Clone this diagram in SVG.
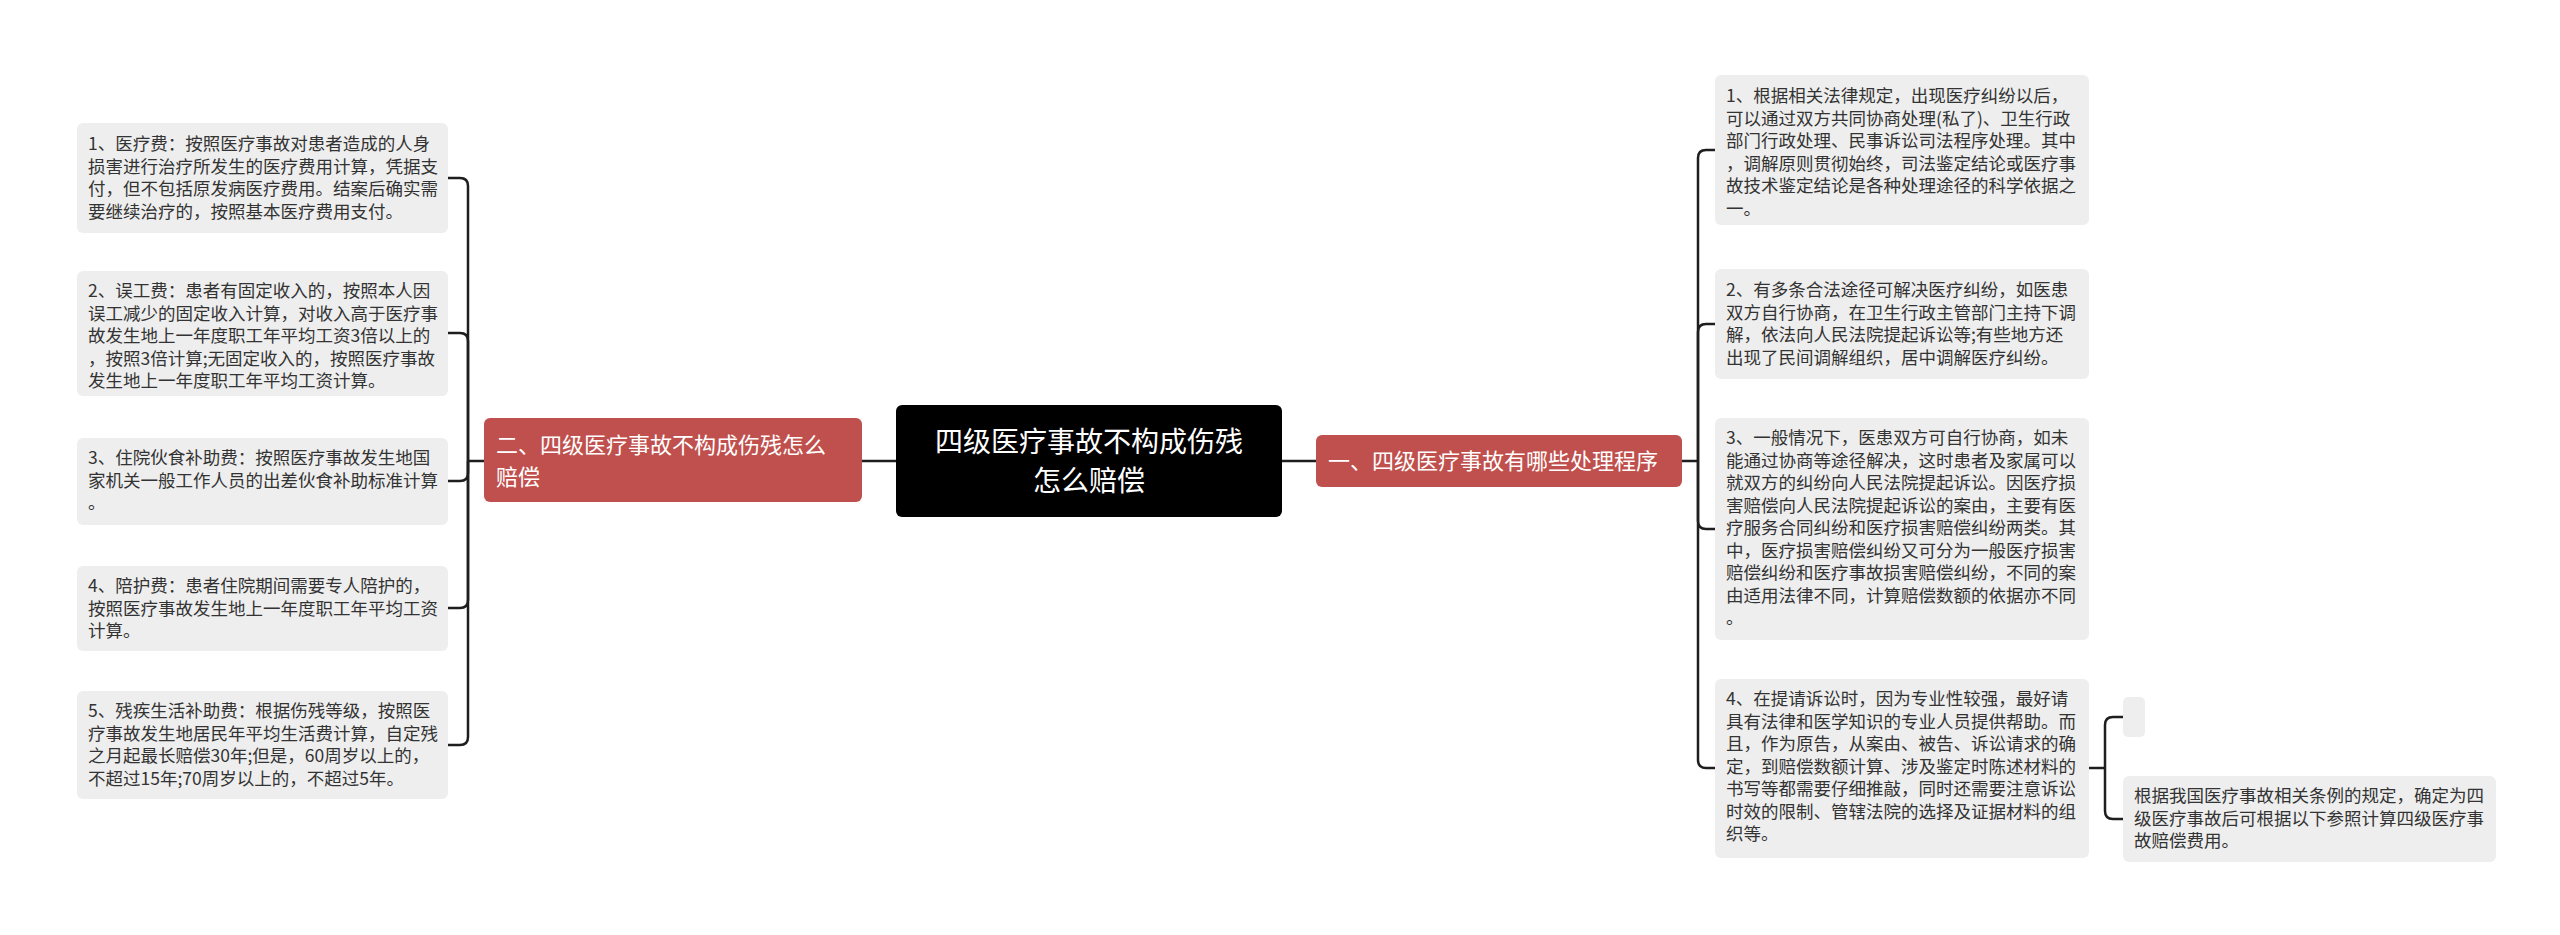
<svg xmlns="http://www.w3.org/2000/svg" width="2560" height="935" viewBox="0 0 2560 935">
<style>
text{font-family:"Noto Sans CJK SC","Liberation Sans",sans-serif}
.leaf{fill:#eeeeee}
.lt{font-size:17.5px;fill:#333}
.br{fill:#c0504d}
.bt{font-size:22px;fill:#fff}
.ct{font-size:28px;fill:#fff}
.c{fill:none;stroke:#1e1e1e;stroke-width:2.5}
</style>
<rect width="2560" height="935" fill="#fff"/>
<g id="connectors">
<path class="c" d="M896 461H862M484 461H468"/>
<path class="c" d="M468 461V186Q468 178 460 178H448"/>
<path class="c" d="M468 461V341Q468 333 460 333H448"/>
<path class="c" d="M468 461V473Q468 481 460 481H448"/>
<path class="c" d="M468 461V600Q468 608 460 608H448"/>
<path class="c" d="M468 461V737Q468 745 460 745H448"/>
<path class="c" d="M1282 461H1316M1682 461H1698"/>
<path class="c" d="M1698 461V158Q1698 150 1706 150H1715"/>
<path class="c" d="M1698 461V332Q1698 324 1706 324H1715"/>
<path class="c" d="M1698 461V521Q1698 529 1706 529H1715"/>
<path class="c" d="M1698 461V760Q1698 768 1706 768H1715"/>
<path class="c" d="M2089 768H2105"/>
<path class="c" d="M2105 768V725Q2105 717 2113 717H2123"/>
<path class="c" d="M2105 768V811Q2105 819 2113 819H2123"/>
</g>
<g id="center"><rect x="896" y="405" width="386" height="112" rx="6" fill="#000"/>
<text class="ct" x="1089" y="452" text-anchor="middle">四级医疗事故不构成伤残</text>
<text class="ct" x="1089" y="491" text-anchor="middle">怎么赔偿</text></g>
<g id="branch-left"><rect class="br" x="484" y="418" width="378" height="84" rx="6"/>
<text class="bt" x="496" y="453">二、四级医疗事故不构成伤残怎么</text>
<text class="bt" x="496" y="485">赔偿</text></g>
<g id="branch-right"><rect class="br" x="1316" y="435" width="366" height="52" rx="6"/>
<text class="bt" x="1328" y="469">一、四级医疗事故有哪些处理程序</text></g>
<g id="l1"><rect class="leaf" x="77" y="123" width="371" height="110" rx="6"/>
<text class="lt"><tspan x="88" y="150">1、医疗费：按照医疗事故对患者造成的人身</tspan><tspan x="88" y="172.5">损害进行治疗所发生的医疗费用计算，凭据支</tspan><tspan x="88" y="195">付，但不包括原发病医疗费用。结案后确实需</tspan><tspan x="88" y="217.5">要继续治疗的，按照基本医疗费用支付。</tspan></text></g>
<g id="l2"><rect class="leaf" x="77" y="271" width="371" height="125" rx="6"/>
<text class="lt"><tspan x="88" y="297">2、误工费：患者有固定收入的，按照本人因</tspan><tspan x="88" y="319.5">误工减少的固定收入计算，对收入高于医疗事</tspan><tspan x="88" y="342">故发生地上一年度职工年平均工资3倍以上的</tspan><tspan x="88" y="364.5">，按照3倍计算;无固定收入的，按照医疗事故</tspan><tspan x="88" y="387">发生地上一年度职工年平均工资计算。</tspan></text></g>
<g id="l3"><rect class="leaf" x="77" y="438" width="371" height="87" rx="6"/>
<text class="lt"><tspan x="88" y="464">3、住院伙食补助费：按照医疗事故发生地国</tspan><tspan x="88" y="486.5">家机关一般工作人员的出差伙食补助标准计算</tspan><tspan x="88" y="509">。</tspan></text></g>
<g id="l4"><rect class="leaf" x="77" y="566" width="371" height="85" rx="6"/>
<text class="lt"><tspan x="88" y="592">4、陪护费：患者住院期间需要专人陪护的，</tspan><tspan x="88" y="614.5">按照医疗事故发生地上一年度职工年平均工资</tspan><tspan x="88" y="637">计算。</tspan></text></g>
<g id="l5"><rect class="leaf" x="77" y="691" width="371" height="108" rx="6"/>
<text class="lt"><tspan x="88" y="717">5、残疾生活补助费：根据伤残等级，按照医</tspan><tspan x="88" y="739.5">疗事故发生地居民年平均生活费计算，自定残</tspan><tspan x="88" y="762">之月起最长赔偿30年;但是，60周岁以上的，</tspan><tspan x="88" y="784.5">不超过15年;70周岁以上的，不超过5年。</tspan></text></g>
<g id="r1"><rect class="leaf" x="1715" y="75" width="374" height="150" rx="6"/>
<text class="lt"><tspan x="1726" y="102">1、根据相关法律规定，出现医疗纠纷以后，</tspan><tspan x="1726" y="124.5">可以通过双方共同协商处理(私了)、卫生行政</tspan><tspan x="1726" y="147">部门行政处理、民事诉讼司法程序处理。其中</tspan><tspan x="1726" y="169.5">，调解原则贯彻始终，司法鉴定结论或医疗事</tspan><tspan x="1726" y="192">故技术鉴定结论是各种处理途径的科学依据之</tspan><tspan x="1726" y="214.5">一。</tspan></text></g>
<g id="r2"><rect class="leaf" x="1715" y="269" width="374" height="110" rx="6"/>
<text class="lt"><tspan x="1726" y="296">2、有多条合法途径可解决医疗纠纷，如医患</tspan><tspan x="1726" y="318.5">双方自行协商，在卫生行政主管部门主持下调</tspan><tspan x="1726" y="341">解，依法向人民法院提起诉讼等;有些地方还</tspan><tspan x="1726" y="363.5">出现了民间调解组织，居中调解医疗纠纷。</tspan></text></g>
<g id="r3"><rect class="leaf" x="1715" y="418" width="374" height="222" rx="6"/>
<text class="lt"><tspan x="1726" y="444">3、一般情况下，医患双方可自行协商，如未</tspan><tspan x="1726" y="466.5">能通过协商等途径解决，这时患者及家属可以</tspan><tspan x="1726" y="489">就双方的纠纷向人民法院提起诉讼。因医疗损</tspan><tspan x="1726" y="511.5">害赔偿向人民法院提起诉讼的案由，主要有医</tspan><tspan x="1726" y="534">疗服务合同纠纷和医疗损害赔偿纠纷两类。其</tspan><tspan x="1726" y="556.5">中，医疗损害赔偿纠纷又可分为一般医疗损害</tspan><tspan x="1726" y="579">赔偿纠纷和医疗事故损害赔偿纠纷，不同的案</tspan><tspan x="1726" y="601.5">由适用法律不同，计算赔偿数额的依据亦不同</tspan><tspan x="1726" y="624">。</tspan></text></g>
<g id="r4"><rect class="leaf" x="1715" y="679" width="374" height="179" rx="6"/>
<text class="lt"><tspan x="1726" y="705">4、在提请诉讼时，因为专业性较强，最好请</tspan><tspan x="1726" y="727.5">具有法律和医学知识的专业人员提供帮助。而</tspan><tspan x="1726" y="750">且，作为原告，从案由、被告、诉讼请求的确</tspan><tspan x="1726" y="772.5">定，到赔偿数额计算、涉及鉴定时陈述材料的</tspan><tspan x="1726" y="795">书写等都需要仔细推敲，同时还需要注意诉讼</tspan><tspan x="1726" y="817.5">时效的限制、管辖法院的选择及证据材料的组</tspan><tspan x="1726" y="840">织等。</tspan></text></g>
<g id="r4a"><rect class="leaf" x="2123" y="697" width="22" height="40" rx="5"/></g>
<g id="r4b"><rect class="leaf" x="2123" y="776" width="373" height="86" rx="6"/>
<text class="lt"><tspan x="2134" y="802">根据我国医疗事故相关条例的规定，确定为四</tspan><tspan x="2134" y="824.5">级医疗事故后可根据以下参照计算四级医疗事</tspan><tspan x="2134" y="847">故赔偿费用。</tspan></text></g>
</svg>
